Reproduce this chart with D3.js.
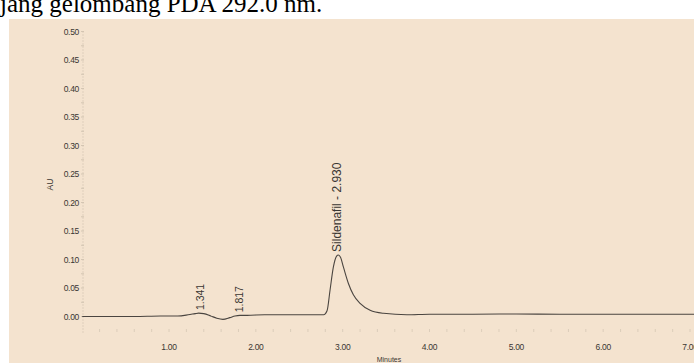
<!DOCTYPE html>
<html>
<head>
<meta charset="utf-8">
<script src="https://cdn.jsdelivr.net/npm/d3@7"></script>
<style>
  body { margin: 0; background: #fff; }
  svg { display: block; }
</style>
</head>
<body>
<div id="chart"></div>
<script>
// chromatogram (minutes, AU)
var times = [0.00, 0.30, 0.60, 0.90, 1.10, 1.22, 1.30, 1.341, 1.40, 1.48, 1.55, 1.62, 1.70, 1.76, 1.817, 1.90, 2.10, 2.40, 2.65, 2.78, 2.82, 2.855, 2.893, 2.93, 2.95, 2.975, 3.008, 3.066, 3.123, 3.20, 3.316, 3.47, 3.74, 4.00, 4.50, 5.00, 5.50, 6.00, 6.50, 7.05];
var absorb = [0.000, 0.000, 0.000, 0.001, 0.001, 0.003, 0.005, 0.006, 0.005, 0.001, -0.003, -0.005, -0.002, 0.001, 0.002, 0.002, 0.003, 0.003, 0.003, 0.003, 0.010, 0.047, 0.087, 0.106, 0.108, 0.104, 0.087, 0.058, 0.038, 0.023, 0.011, 0.0056, 0.003, 0.004, 0.004, 0.0045, 0.004, 0.004, 0.004, 0.004];

var yTicks = [0.00, 0.05, 0.10, 0.15, 0.20, 0.25, 0.30, 0.35, 0.40, 0.45, 0.50];
var xTicks = [1, 2, 3, 4, 5, 6, 7];

// peak labels
var peakNames = ["1.341", "1.817", "Sildenafil - 2.930"];
var peakTimes = [1.357, 1.817, 2.945];
var peakHeights = [0.006, 0.002, 0.108];

var svgWidth = 694;
var svgHeight = 363;

var svg = d3.select("#chart")
  .append("svg")
  .attr("width", svgWidth)
  .attr("height", svgHeight);

// caption cut off at the top of the picture
svg.append("text")
  .attr("x", 0)
  .attr("y", 12)
  .attr("font-family", "Liberation Serif, Times New Roman, serif")
  .attr("font-size", "25px")
  .attr("fill", "#000")
  .text("jang gelombang PDA 292.0 nm.");

svg.append("rect")
  .attr("x", 9)
  .attr("y", 19)
  .attr("width", svgWidth - 9)
  .attr("height", svgHeight - 19)
  .attr("fill", "#f4e3cf");

var x = d3.scaleLinear().domain([0, 7]).range([82.2, 690]);
var y = d3.scaleLinear().domain([0, 0.5]).range([316.5, 31.5]);

var font = "Liberation Sans, Arial, sans-serif";
var txtColor = "#3a3632";

// y axis: faint dotted line with small ticks
svg.append("line")
  .attr("x1", 83).attr("x2", 83)
  .attr("y1", y(0.5)).attr("y2", 333)
  .attr("stroke", "#c9bba8")
  .attr("stroke-width", 1)
  .attr("stroke-dasharray", "1,2");

svg.append("g")
  .selectAll("line")
  .data(d3.range(0, 0.501, 0.025))
  .enter()
  .append("line")
  .attr("x1", 81).attr("x2", 84)
  .attr("y1", d => y(d)).attr("y2", d => y(d))
  .attr("stroke", "#cdbfac")
  .attr("stroke-width", 0.8);

svg.append("g")
  .selectAll("text")
  .data(yTicks)
  .enter()
  .append("text")
  .attr("x", 79)
  .attr("y", d => y(d) + 3)
  .attr("text-anchor", "end")
  .attr("font-family", font)
  .attr("font-size", "8.5px")
  .attr("letter-spacing", "-0.3px")
  .attr("fill", txtColor)
  .text(d => d.toFixed(2));

svg.append("text")
  .attr("transform", "translate(53, 184.5) rotate(-90)")
  .attr("text-anchor", "middle")
  .attr("font-family", font)
  .attr("font-size", "8.5px")
  .attr("fill", txtColor)
  .text("AU");

// x axis: only faint tick marks, no line
svg.append("g")
  .selectAll("line")
  .data(d3.range(0.2, 7.01, 0.2))
  .enter()
  .append("line")
  .attr("x1", d => x(d)).attr("x2", d => x(d))
  .attr("y1", 329).attr("y2", 332)
  .attr("stroke", "#d6c8b5")
  .attr("stroke-width", 0.8);

svg.append("g")
  .selectAll("text")
  .data(xTicks)
  .enter()
  .append("text")
  .attr("x", d => x(d))
  .attr("y", 350)
  .attr("text-anchor", "middle")
  .attr("font-family", font)
  .attr("font-size", "8.5px")
  .attr("letter-spacing", "-0.3px")
  .attr("fill", txtColor)
  .text(d => d.toFixed(2));

svg.append("text")
  .attr("x", 389)
  .attr("y", 362)
  .attr("text-anchor", "middle")
  .attr("font-family", font)
  .attr("font-size", "7px")
  .attr("fill", txtColor)
  .text("Minutes");

// trace
var line = d3.line()
  .x((d, i) => x(times[i]))
  .y(d => y(d))
  .curve(d3.curveMonotoneX);

svg.append("path")
  .datum(absorb)
  .attr("d", line)
  .attr("fill", "none")
  .attr("stroke", "#4a4540")
  .attr("stroke-width", 1.1);

// rotated peak labels
svg.append("g")
  .selectAll("text")
  .data(peakNames)
  .enter()
  .append("text")
  .attr("transform", (d, i) => `translate(${x(peakTimes[i]) + 3.5}, ${y(peakHeights[i]) - 3}) rotate(-90)`)
  .attr("font-family", font)
  .attr("font-size", (d, i) => i === 2 ? "12px" : "10.5px")
  .attr("fill", txtColor)
  .text(d => d);
</script>
</body>
</html>
